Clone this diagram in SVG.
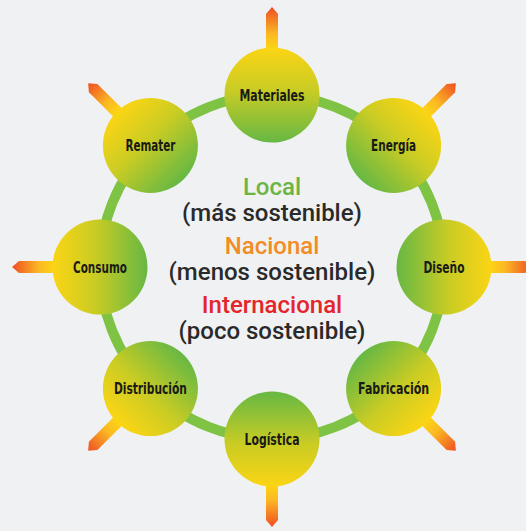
<svg xmlns="http://www.w3.org/2000/svg" width="526" height="531" viewBox="0 0 526 531">
  <defs>
    <linearGradient id="gNode" x1="0" y1="0" x2="0" y2="1">
      <stop offset="0" stop-color="#fbd514"/>
      <stop offset="0.45" stop-color="#c9cc24"/>
      <stop offset="1" stop-color="#66b844"/>
    </linearGradient>
    <linearGradient id="gArrow" gradientUnits="userSpaceOnUse" x1="0" y1="-46" x2="0" y2="-88">
      <stop offset="0" stop-color="#fdd415"/>
      <stop offset="0.35" stop-color="#fbb923"/>
      <stop offset="1" stop-color="#ef4e24"/>
    </linearGradient>
    <polygon id="arrow" points="-6,-40 6,-40 6,-81 0,-88 -6,-81" fill="url(#gArrow)"/>
    <circle id="disc" r="47.5" fill="url(#gNode)"/>
  </defs>
  <style>
    .lbl { font-family: "Liberation Sans Narrow", "DejaVu Sans Condensed", "Liberation Sans", sans-serif; font-weight: bold; font-size: 16.5px; fill: #1a1a14; text-anchor: middle; }
    .ctr { font-family: Roboto, "Liberation Sans", sans-serif; font-weight: 500; font-size: 24px; text-anchor: middle; }
    .dark { fill: #2a2a2a; }
  </style>
  <rect width="526" height="531" fill="#f0f1f3"/>
  <g id="connectors">
    <circle cx="272" cy="267" r="172" fill="none" stroke="#7ec343" stroke-width="10"/>
  </g>
  <g id="materiales" transform="translate(272,95)">
    <g transform="rotate(0)"><use href="#arrow"/><use href="#disc"/></g>
    <text class="lbl" y="5.5" textLength="65" lengthAdjust="spacingAndGlyphs">Materiales</text>
  </g>
  <g id="energia" transform="translate(393.6,145.4)">
    <g transform="rotate(45)"><use href="#arrow"/><use href="#disc"/></g>
    <text class="lbl" y="5.5" textLength="45" lengthAdjust="spacingAndGlyphs">Energía</text>
  </g>
  <g id="diseno" transform="translate(444,267)">
    <g transform="rotate(90)"><use href="#arrow"/><use href="#disc"/></g>
    <text class="lbl" y="5.5" textLength="41" lengthAdjust="spacingAndGlyphs">Diseño</text>
  </g>
  <g id="fabricacion" transform="translate(393.6,388.6)">
    <g transform="rotate(135)"><use href="#arrow"/><use href="#disc"/></g>
    <text class="lbl" y="5.5" textLength="71" lengthAdjust="spacingAndGlyphs">Fabricación</text>
  </g>
  <g id="logistica" transform="translate(272,439)">
    <g transform="rotate(180)"><use href="#arrow"/><use href="#disc"/></g>
    <text class="lbl" y="5.5" textLength="55" lengthAdjust="spacingAndGlyphs">Logística</text>
  </g>
  <g id="distribucion" transform="translate(150.4,388.6)">
    <g transform="rotate(225)"><use href="#arrow"/><use href="#disc"/></g>
    <text class="lbl" y="5.5" textLength="73" lengthAdjust="spacingAndGlyphs">Distribución</text>
  </g>
  <g id="consumo" transform="translate(100,267)">
    <g transform="rotate(270)"><use href="#arrow"/><use href="#disc"/></g>
    <text class="lbl" y="5.5" textLength="54" lengthAdjust="spacingAndGlyphs">Consumo</text>
  </g>
  <g id="remater" transform="translate(150.4,145.4)">
    <g transform="rotate(315)"><use href="#arrow"/><use href="#disc"/></g>
    <text class="lbl" y="5.5" textLength="50" lengthAdjust="spacingAndGlyphs">Remater</text>
  </g>
  <g id="center-text">
    <text class="ctr" x="272" y="195" fill="#6cb545">Local</text>
    <text class="ctr dark" x="272" y="221">(más sostenible)</text>
    <text class="ctr" x="272" y="254" fill="#f28c25">Nacional</text>
    <text class="ctr dark" x="272" y="280">(menos sostenible)</text>
    <text class="ctr" x="272" y="313" fill="#e4252c">Internacional</text>
    <text class="ctr dark" x="272" y="339">(poco sostenible)</text>
  </g>
</svg>
